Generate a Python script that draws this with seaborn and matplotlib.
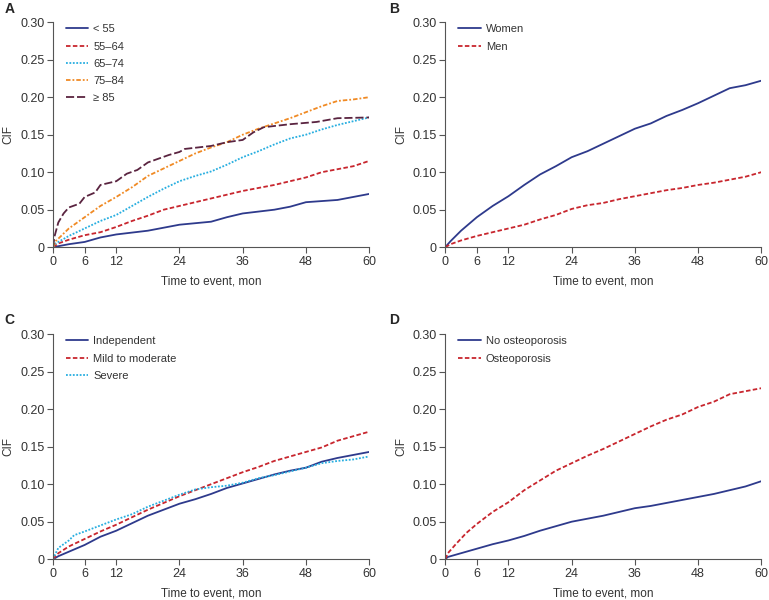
import pandas as pd
import matplotlib.pyplot as plt
import seaborn as sns

# ---- data (time in months, CIF) ----
# Panel A: age groups
a_t_lt55 = [0, 1.5, 3, 6, 9, 12, 18, 24, 30, 33, 36, 42, 45, 48, 54, 57, 60]
a_v_lt55 = [0, 0.002, 0.004, 0.007, 0.013, 0.017, 0.022, 0.030, 0.034, 0.040, 0.045, 0.050, 0.054, 0.060, 0.063, 0.067, 0.071]
a_t_5564 = [0, 1, 3, 6, 9, 12, 15, 18, 21, 24, 30, 36, 42, 48, 51, 54, 57, 60]
a_v_5564 = [0, 0.005, 0.010, 0.016, 0.020, 0.027, 0.035, 0.042, 0.050, 0.055, 0.065, 0.075, 0.083, 0.093, 0.100, 0.104, 0.108, 0.115]
a_t_6574 = [0, 0.5, 3, 6, 9, 12, 15, 18, 21, 24, 27, 30, 33, 36, 39, 42, 45, 48, 51, 54, 57, 60]
a_v_6574 = [0, 0.005, 0.015, 0.025, 0.035, 0.043, 0.055, 0.067, 0.078, 0.088, 0.095, 0.101, 0.110, 0.120, 0.128, 0.137, 0.145, 0.150, 0.157, 0.163, 0.168, 0.173]
a_t_7584 = [0, 0.5, 3, 6, 9, 12, 15, 18, 21, 24, 27, 30, 33, 36, 39, 42, 45, 48, 51, 54, 57, 60]
a_v_7584 = [0, 0.008, 0.025, 0.040, 0.055, 0.067, 0.080, 0.095, 0.105, 0.115, 0.125, 0.133, 0.140, 0.150, 0.158, 0.165, 0.172, 0.180, 0.188, 0.195, 0.197, 0.200]
a_t_ge85 = [0, 0.3, 1, 2, 3, 5, 6, 8, 9, 12, 14, 16, 18, 20, 22, 24, 25, 30, 33, 36, 38, 40, 45, 50, 54, 60]
a_v_ge85 = [0, 0.015, 0.033, 0.045, 0.053, 0.058, 0.067, 0.073, 0.083, 0.088, 0.098, 0.103, 0.113, 0.118, 0.123, 0.127, 0.131, 0.135, 0.140, 0.143, 0.153, 0.160, 0.164, 0.167, 0.172, 0.173]

# Panel B: sex
b_t = [0, 1, 3, 6, 9, 12, 15, 18, 21, 24, 27, 30, 33, 36, 39, 42, 45, 48, 51, 54, 57, 60]
b_women = [0, 0.008, 0.022, 0.040, 0.055, 0.068, 0.083, 0.097, 0.108, 0.120, 0.128, 0.138, 0.148, 0.158, 0.165, 0.175, 0.183, 0.192, 0.202, 0.212, 0.216, 0.222]
b_men = [0, 0.004, 0.009, 0.015, 0.020, 0.025, 0.030, 0.037, 0.043, 0.051, 0.056, 0.059, 0.064, 0.068, 0.072, 0.076, 0.079, 0.083, 0.086, 0.090, 0.094, 0.100]

# Panel C: functional status
c_t = [0, 1, 3, 6, 9, 12, 15, 18, 21, 24, 27, 30, 33, 36, 39, 42, 45, 48, 51, 54, 57, 60]
c_indep = [0, 0.004, 0.010, 0.019, 0.030, 0.038, 0.048, 0.058, 0.066, 0.074, 0.080, 0.087, 0.095, 0.101, 0.107, 0.113, 0.118, 0.122, 0.130, 0.135, 0.139, 0.143]
c_mild = [0, 0.008, 0.017, 0.027, 0.037, 0.046, 0.056, 0.066, 0.075, 0.084, 0.092, 0.100, 0.108, 0.116, 0.123, 0.131, 0.137, 0.143, 0.149, 0.158, 0.164, 0.170]
c_sev_t = [0, 0.5, 1, 3, 4, 6, 9, 12, 15, 18, 21, 24, 27, 30, 33, 36, 39, 42, 45, 48, 51, 54, 57, 60]
c_severe = [0, 0.008, 0.015, 0.025, 0.032, 0.037, 0.045, 0.053, 0.060, 0.070, 0.078, 0.086, 0.093, 0.096, 0.098, 0.102, 0.108, 0.112, 0.117, 0.122, 0.128, 0.131, 0.133, 0.137]

# Panel D: osteoporosis
d_t_no = [0, 0.5, 3, 6, 9, 12, 15, 18, 21, 24, 27, 30, 33, 36, 39, 42, 45, 48, 51, 54, 57, 60]
d_no = [0, 0.003, 0.008, 0.014, 0.020, 0.025, 0.031, 0.038, 0.044, 0.050, 0.054, 0.058, 0.063, 0.068, 0.071, 0.075, 0.079, 0.083, 0.087, 0.092, 0.097, 0.104]
d_t_yes = [0, 0.5, 2, 4, 6, 9, 12, 15, 18, 21, 24, 27, 30, 33, 36, 39, 42, 45, 48, 51, 54, 57, 60]
d_yes = [0, 0.008, 0.020, 0.035, 0.047, 0.063, 0.076, 0.092, 0.105, 0.118, 0.128, 0.138, 0.147, 0.157, 0.167, 0.177, 0.186, 0.193, 0.203, 0.210, 0.220, 0.224, 0.228]

NAVY = '#2e3a8c'
RED = '#c8262e'
CYAN = '#27aee0'
ORANGE = '#f08a24'
MAROON = '#5a2440'

STYLES = {
    'solid': '',
    'dash': (2.5, 1.3),
    'dot': (1, 0.9),
    'dashdot': (2.5, 1.1, 1, 1.1),
    'longdash': (4.5, 1.6),
}


def make_df(series):
    rows = []
    for name, ts, vs in series:
        for t, v in zip(ts, vs):
            rows.append({'time': t, 'cif': v, 'group': name})
    return pd.DataFrame(rows)


panels = [
    ('A', [('< 55', a_t_lt55, a_v_lt55, NAVY, 'solid'),
           ('55\u201364', a_t_5564, a_v_5564, RED, 'dash'),
           ('65\u201374', a_t_6574, a_v_6574, CYAN, 'dot'),
           ('75\u201384', a_t_7584, a_v_7584, ORANGE, 'dashdot'),
           ('\u2265 85', a_t_ge85, a_v_ge85, MAROON, 'longdash')]),
    ('B', [('Women', b_t, b_women, NAVY, 'solid'),
           ('Men', b_t, b_men, RED, 'dash')]),
    ('C', [('Independent', c_t, c_indep, NAVY, 'solid'),
           ('Mild to moderate', c_t, c_mild, RED, 'dash'),
           ('Severe', c_sev_t, c_severe, CYAN, 'dot')]),
    ('D', [('No osteoporosis', d_t_no, d_no, NAVY, 'solid'),
           ('Osteoporosis', d_t_yes, d_yes, RED, 'dash')]),
]

sns.set_style('white')
plt.rcParams['font.family'] = ['Liberation Sans', 'DejaVu Sans']

fig = plt.figure(figsize=(7.69, 6.0), dpi=100)
positions = {
    'A': [0.069, 0.588, 0.411, 0.375],
    'B': [0.579, 0.588, 0.411, 0.375],
    'C': [0.069, 0.068, 0.411, 0.375],
    'D': [0.579, 0.068, 0.411, 0.375],
}
letter_pos = {'A': (0.006, 0.997), 'B': (0.506, 0.997), 'C': (0.006, 0.478), 'D': (0.506, 0.478)}

for letter, series in panels:
    ax = fig.add_axes(positions[letter])
    df = make_df([(n, t, v) for n, t, v, c, s in series])
    palette = {n: c for n, t, v, c, s in series}
    dashes = {n: STYLES[s] for n, t, v, c, s in series}
    sns.lineplot(data=df, x='time', y='cif', hue='group', style='group',
                 palette=palette, dashes=dashes, linewidth=1.3, ax=ax)
    ax.set_xlim(0, 60)
    ax.set_ylim(0, 0.30)
    ax.set_xticks([0, 6, 12, 24, 36, 48, 60])
    ax.set_yticks([0, 0.05, 0.10, 0.15, 0.20, 0.25, 0.30])
    ax.set_yticklabels(['0', '0.05', '0.10', '0.15', '0.20', '0.25', '0.30'])
    for side in ['top', 'right']:
        ax.spines[side].set_visible(False)
    for side in ['left', 'bottom']:
        ax.spines[side].set_color('#555555')
        ax.spines[side].set_linewidth(0.8)
    ax.tick_params(direction='out', length=4, width=0.8, color='#555555',
                   labelsize=9, labelcolor='#333333', left=True, bottom=True, pad=2)
    ax.set_xlabel('Time to event, mon', fontsize=8.5, color='#333333', labelpad=6)
    ax.set_ylabel('CIF', fontsize=8.5, color='#333333', labelpad=4)
    ax.legend(loc='upper left', frameon=False, fontsize=8, handlelength=2.0,
              bbox_to_anchor=(0.01, 1.035), labelspacing=0.65, handletextpad=0.45,
              labelcolor='#333333')
    fig.text(*letter_pos[letter], letter, fontsize=10, fontweight='bold', va='top', ha='left')

fig.savefig('out.png', dpi=100)
